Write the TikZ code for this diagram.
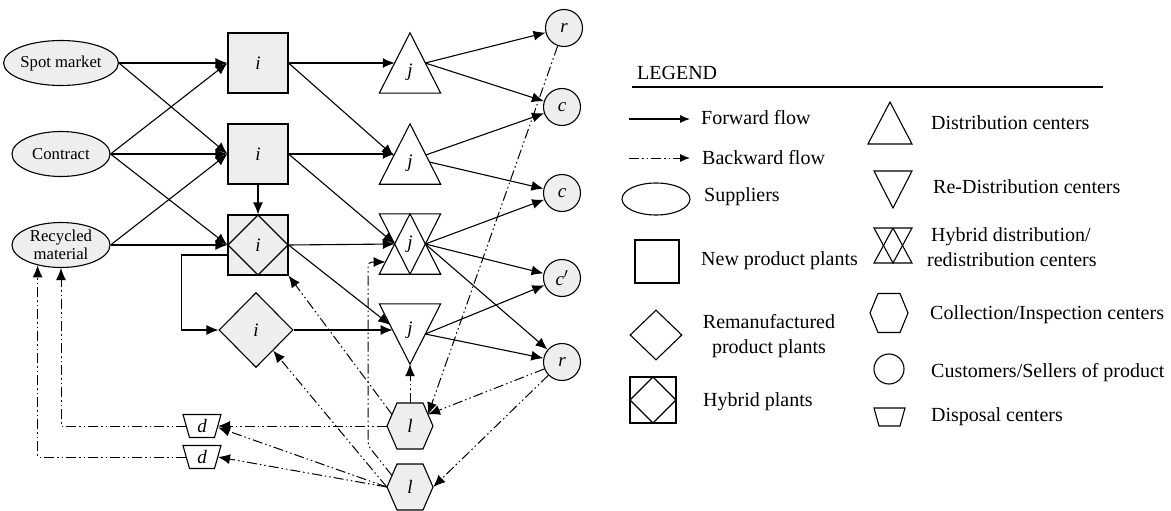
\documentclass[tikz,border=0pt]{standalone}
\usepackage{fontspec}
\setmainfont{Liberation Serif}
\usetikzlibrary{shapes.geometric,arrows.meta,calc}
\definecolor{nfill}{RGB}{238,238,238}
\begin{document}
\begin{tikzpicture}[x=1pt,y=-1pt,
  shp/.style={draw=black, line width=1.1pt},
  fwd/.style={draw=black, line width=1.1pt, -{Latex[length=12pt,width=10pt]}},
  bwd/.style={draw=black, line width=1pt, dash pattern=on 10pt off 3pt on 1.5pt off 3pt on 1.5pt off 3pt, -{Latex[length=12pt,width=10pt]}},
  legfwd/.style={draw=black, line width=1.1pt, -{Latex[length=10pt,width=8pt]}},
  legbwd/.style={draw=black, line width=1pt, dash pattern=on 10pt off 3pt on 1.5pt off 3pt on 1.5pt off 3pt, -{Latex[length=10pt,width=8pt]}},
  lab/.style={font=\fontsize{19}{20}\selectfont\itshape, inner sep=0pt},
  sup/.style={shp, ellipse, fill=nfill, minimum width=98pt, minimum height=45pt, inner sep=0pt, font=\fontsize{16.7}{18}\selectfont, align=center},
  plant/.style={shp, rectangle, fill=nfill, minimum size=60pt, inner sep=0pt, lab},
  diamin/.style={path picture={\draw[line width=1.1pt] (path picture bounding box.north) -- (path picture bounding box.east) -- (path picture bounding box.south) -- (path picture bounding box.west) -- cycle;}},
  rplant/.style={shp, diamond, fill=nfill, minimum width=74pt, minimum height=75pt, inner sep=0pt, lab},
  cust/.style={shp, circle, fill=nfill, minimum size=37pt, inner sep=0pt, lab},
  tribox/.style={rectangle, inner sep=0pt, minimum width=61pt, minimum height=60pt},
  hexbox/.style={rectangle, inner sep=0pt, minimum width=46pt, minimum height=46pt},
  dbox/.style={rectangle, inner sep=0pt, minimum width=38pt, minimum height=23pt},
  leg/.style={font=\fontsize{20}{24}\selectfont, inner sep=0pt, anchor=west}
]
\useasboundingbox (0,0) rectangle (1171,511);

% suppliers
\node[sup] (sm) at (61,63) {Spot market};
\node[sup] (ct) at (61,154) {Contract};
\node[sup] (rc) at (61,245) {Recycled\\material};

% plants
\node[plant] (p1) at (258,63) {i};
\node[plant] (p2) at (258,154) {i};
\node[plant, diamin] (ph) at (258,245) {i};
\node[rplant] (rm) at (256,330) {i};

% distribution centers
\node[tribox] (j1) at (410,63) {};
\draw[shp] (j1.north) -- (j1.south east) -- (j1.south west) -- cycle;
\node[lab] (j1t) at ($(j1)+(0,9)$) {j};
\node[tribox] (j2) at (410,154) {};
\draw[shp] (j2.north) -- (j2.south east) -- (j2.south west) -- cycle;
\node[lab] (j2t) at ($(j2)+(0,9)$) {j};
\node[tribox] (j3) at (410,244) {};
\draw[shp] (j3.north west) -- (j3.north east) -- (j3.south) -- cycle;
\draw[shp] (j3.south west) -- (j3.south east) -- (j3.north) -- cycle;
\node[lab] (j3t) at (j3) {j};
\node[tribox] (j4) at (410,334) {};
\draw[shp] (j4.north west) -- (j4.north east) -- (j4.south) -- cycle;
\node[lab] (j4t) at ($(j4)+(0,-4)$) {j};

% customers
\node[cust] (r1) at (564,28) {r};
\node[cust] (c1) at (562,107) {c};
\node[cust] (c2) at (562,193) {c};
\node[cust] (cp) at (562,278) {c$'$};
\node[cust] (r2) at (562,362) {r};

% collection centers
\node[hexbox] (l1) at (410,426) {};
\filldraw[shp, fill=nfill] ($(l1)+(-23,0)$) -- ($(l1)+(-13,-23)$) -- ($(l1)+(13,-23)$) -- ($(l1)+(23,0)$) -- ($(l1)+(13,23)$) -- ($(l1)+(-13,23)$) -- cycle;
\node[lab] (l1t) at (l1) {l};
\node[hexbox] (l2) at (410,487) {};
\filldraw[shp, fill=nfill] ($(l2)+(-23,0)$) -- ($(l2)+(-13,-23)$) -- ($(l2)+(13,-23)$) -- ($(l2)+(23,0)$) -- ($(l2)+(13,23)$) -- ($(l2)+(-13,23)$) -- cycle;
\node[lab] (l2t) at (l2) {l};

% disposal centers
\node[dbox] (d1) at (202,426) {};
\draw[shp] ($(d1)+(-19,-11.5)$) -- ($(d1)+(19,-11.5)$) -- ($(d1)+(12.5,11.5)$) -- ($(d1)+(-12.5,11.5)$) -- cycle;
\node[lab] (d1t) at (d1) {d};
\node[dbox] (d2) at (202,457) {};
\draw[shp] ($(d2)+(-19,-11.5)$) -- ($(d2)+(19,-11.5)$) -- ($(d2)+(12.5,11.5)$) -- ($(d2)+(-12.5,11.5)$) -- cycle;
\node[lab] (d2t) at (d2) {d};

% forward flows
\draw[fwd] (sm.east) -- (p1.west);
\draw[fwd] (sm.east) -- (p2.west);
\draw[fwd] (ct.east) -- (p1.west);
\draw[fwd] (ct.east) -- (p2.west);
\draw[fwd] (ct.east) -- (ph.west);
\draw[fwd] (rc.east) -- (p2.west);
\draw[fwd] (rc.east) -- (ph.west);
\draw[fwd] (p2.south) -- (ph.north);
\draw[fwd] ($(ph.west)+(0,10)$) -- ++(-46,0) |- (rm.west);
\draw[fwd] (p1.east) -- ($(j1)+(-15.25,0)$);
\draw[fwd] (p1.east) -- ($(j2)+(-16.3,2)$);
\draw[fwd] (p2.east) -- ($(j2)+(-15.25,0)$);
\draw[fwd] (p2.east) -- ($(j3)+(-15.25,0)$);
\draw[fwd] (ph.east) -- ($(j3)+(-15.25,0)$);
\draw[fwd] (ph.east) -- ($(j4)+(-19.8,-9)$);
\draw[fwd] (rm.east) -- ($(j4)+(-17.3,-4)$);
\draw[fwd] ($(j1)+(15.25,0)$) -- (r1);
\draw[fwd] ($(j1)+(15.25,0)$) -- (c1);
\draw[fwd] ($(j2)+(15.8,1)$) -- (c1);
\draw[fwd] ($(j2)+(19.3,8)$) -- (c2);
\draw[fwd] ($(j3)+(15.25,0)$) -- (c2);
\draw[fwd] ($(j3)+(15.25,0)$) -- (cp);
\draw[fwd] ($(j3)+(15.25,0)$) -- (r2);
\draw[fwd] ($(j4)+(15.25,0)$) -- (cp);
\draw[fwd] ($(j4)+(15.25,0)$) -- (r2);

% backward flows
\draw[bwd] (r1) -- ($(l1)+(18,-11.5)$);
\draw[bwd] (r2) -- ($(l1)+(18,-11.5)$);
\draw[bwd] (r2) -- (l2.east);
\draw[bwd] (l1.north) -- (j4.south);
\draw[bwd] (l1.west) -- ($(d1)+(16,0)$);
\draw[bwd] ($(l1)+(-18,-11.5)$) -- (ph.south east);
\draw[bwd] (l2.west) -- ($(d1)+(16,1.5)$);
\draw[bwd] (l2.west) -- ($(d2)+(16,0)$);
\draw[bwd] (l2.west) -- (rm);
\draw[bwd, rounded corners=4pt] ($(l2)+(-18,-11.5)$) -- ++(-24,-30) |- ($(j3)+(-24.4,18)$);
\draw[bwd] ($(d1)+(-16,0)$) -| (rc.south);
\draw[bwd] ($(d2)+(-16,0)$) -| (rc.221);

% legend
\node[leg] (lg) at (637,73) {LEGEND};
\draw[line width=1.3pt] (632,87) -- (1103,87);
\draw[legfwd] (629,119) -- (690,119);
\node[leg] (tf) at (701,118) {Forward flow};
\draw[legbwd] (629,158) -- (690,158);
\node[leg] (tb) at (702,158) {Backward flow};
\node[shp, ellipse, minimum width=68pt, minimum height=32pt, inner sep=0pt] (le) at (656,199) {};
\node[leg] (ts) at (704,197) {Suppliers};
\node[shp, rectangle, minimum width=44pt, minimum height=43pt, inner sep=0pt] (lsq) at (657,261.5) {};
\node[leg] (tn) at (701,261) {New product plants};
\node[shp, diamond, minimum width=52pt, minimum height=50pt, inner sep=0pt] (ldm) at (656,335) {};
\node[leg, anchor=center, align=center, font=\fontsize{20}{25}\selectfont] (tr) at (769,336) {Remanufactured\\product plants};
\node[shp, rectangle, minimum size=46pt, inner sep=0pt, diamin] (lhp) at (653,400) {};
\node[leg] (th) at (703,402) {Hybrid plants};
\draw[shp] (890,102) -- (912,144) -- (868,144) -- cycle;
\node[leg] (td) at (931,123) {Distribution centers};
\draw[shp] (874,171) -- (912,171) -- (893,208) -- cycle;
\node[leg] (trd) at (933,187) {Re-Distribution centers};
\draw[shp] (874,228) -- (912,228) -- (893,263) -- cycle;
\draw[shp] (874,263) -- (912,263) -- (893,228) -- cycle;
\node[leg] (thd1) at (931,237) {Hybrid distribution/};
\node[leg] (thd2) at (927,260) {redistribution centers};
\draw[shp] (870,313) -- (878,293.5) -- (900,293.5) -- (908,313) -- (900,332.5) -- (878,332.5) -- cycle;
\node[leg] (tc) at (930,315) {Collection/Inspection centers};
\node[shp, circle, minimum size=30pt, inner sep=0pt] (lc) at (889,369) {};
\node[leg] (tcu) at (931,373) {Customers/Sellers of product};
\draw[shp] (874,408) -- (905,408) -- (900,426) -- (879,426) -- cycle;
\node[leg] (tdp) at (931,417) {Disposal centers};
\end{tikzpicture}
\end{document}
